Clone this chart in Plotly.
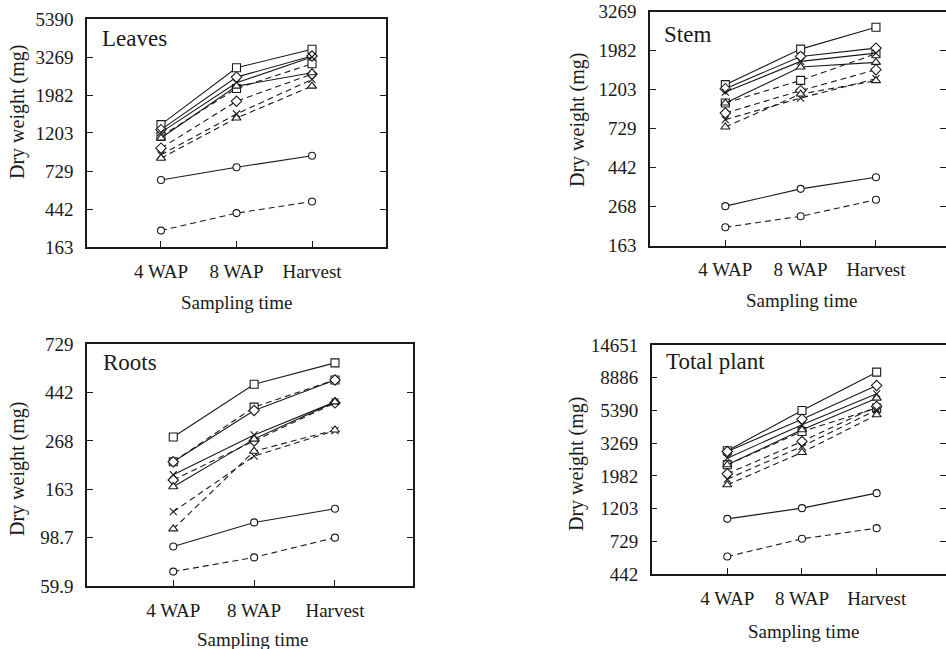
import math
import plotly.graph_objects as go

# ---------------- data ----------------
sampling_times = ["4 WAP", "8 WAP", "Harvest"]

# Leaves (solid = series A, dashed = series B)
leaves_square_a = [1342, 2838, 3620]
leaves_diamond_a = [1257, 2509, 3312]
leaves_x_a = [1212, 2327, 3269]
leaves_triangle_a = [1125, 2228, 2656]
leaves_circle_a = [648, 766, 891]
leaves_square_b = [1150, 2161, 2991]
leaves_diamond_b = [985, 1827, 2610]
leaves_x_b = [902, 1544, 2434]
leaves_triangle_b = [863, 1464, 2228]
leaves_circle_b = [333, 419, 488]

# Stem
stem_square_a = [1283, 2023, 2680]
stem_diamond_a = [1218, 1842, 2049]
stem_x_a = [1167, 1728, 1922]
stem_triangle_a = [1013, 1607, 1706]
stem_circle_a = [270, 337, 391]
stem_square_b = [1013, 1355, 1907]
stem_diamond_b = [891, 1188, 1554]
stem_x_b = [819, 1080, 1385]
stem_triangle_b = [745, 1137, 1350]
stem_circle_b = [206, 237, 293]

# Roots
roots_square_a = [279, 481, 600]
roots_diamond_a = [216, 367, 503]
roots_x_a = [189, 285, 401]
roots_triangle_a = [167, 273, 401]
roots_circle_a = [90, 115.5, 133]
roots_square_b = [216, 380, 503]
roots_diamond_b = [179, 268, 397]
roots_x_b = [129, 229, 298]
roots_triangle_b = [108, 241, 300]
roots_circle_b = [69.5, 80.5, 98.7]

# Total plant
total_square_a = [2906, 5384, 9676]
total_diamond_a = [2876, 4716, 7891]
total_x_a = [2598, 4324, 6947]
total_triangle_a = [2346, 4006, 6502]
total_circle_a = [1027, 1210, 1521]
total_square_b = [2346, 3906, 5580]
total_diamond_b = [2044, 3352, 5724]
total_x_b = [1885, 3105, 5439]
total_triangle_b = [1728, 2833, 5039]
total_circle_b = [577, 757, 891]

# y tick positions and printed labels
leaves_tickvals = [268.3, 442, 729, 1203, 1982, 3269, 5390]
leaves_ticktext = ["163", "442", "729", "1203", "1982", "3269", "5390"]
stem_tickvals = [163, 268, 442, 729, 1203, 1982, 3269]
stem_ticktext = ["163", "268", "442", "729", "1203", "1982", "3269"]
roots_tickvals = [59.9, 98.7, 163, 268, 442, 729]
roots_ticktext = ["59.9", "98.7", "163", "268", "442", "729"]
total_tickvals = [442, 729, 1203, 1982, 3269, 5390, 8886, 14651]
total_ticktext = ["442", "729", "1203", "1982", "3269", "5390", "8886", "14651"]

panel_titles = ["Leaves", "Stem", "Roots", "Total plant"]

# ---------------- figure ----------------
W, H = 946, 649
FONT = "Liberation Serif, Times New Roman, serif"
INK = "#1a1a1a"

def px(x):
    return x / W

def py(y):
    return 1 - y / H

marker_styles = {
    "square": dict(symbol="square", size=8),
    "diamond": dict(symbol="diamond", size=8),
    "x": dict(symbol="x-thin", size=7),
    "triangle": dict(symbol="triangle-up", size=8),
    "circle": dict(symbol="circle", size=7),
}

panels = [
    ("", [("square", leaves_square_a, leaves_square_b), ("diamond", leaves_diamond_a, leaves_diamond_b),
          ("x", leaves_x_a, leaves_x_b), ("triangle", leaves_triangle_a, leaves_triangle_b),
          ("circle", leaves_circle_a, leaves_circle_b)]),
    ("2", [("square", stem_square_a, stem_square_b), ("diamond", stem_diamond_a, stem_diamond_b),
           ("x", stem_x_a, stem_x_b), ("triangle", stem_triangle_a, stem_triangle_b),
           ("circle", stem_circle_a, stem_circle_b)]),
    ("3", [("square", roots_square_a, roots_square_b), ("diamond", roots_diamond_a, roots_diamond_b),
           ("x", roots_x_a, roots_x_b), ("triangle", roots_triangle_a, roots_triangle_b),
           ("circle", roots_circle_a, roots_circle_b)]),
    ("4", [("square", total_square_a, total_square_b), ("diamond", total_diamond_a, total_diamond_b),
           ("x", total_x_a, total_x_b), ("triangle", total_triangle_a, total_triangle_b),
           ("circle", total_circle_a, total_circle_b)]),
]

fig = go.Figure()
for suffix, series in panels:
    for dash_style, idx in (("6px,4px", 2), ("solid", 1)):
        for name, a_vals, b_vals in series:
            vals = a_vals if idx == 1 else b_vals
            ms = marker_styles[name]
            fig.add_trace(go.Scatter(
                x=sampling_times, y=vals, mode="lines+markers",
                xaxis="x" + suffix, yaxis="y" + suffix,
                line=dict(color=INK, width=1.1, dash=dash_style),
                marker=dict(symbol=ms["symbol"], size=ms["size"], color="white",
                            line=dict(color=INK, width=1.1)),
                showlegend=False, hoverinfo="x+y",
            ))

def xaxis(domain, rng, anchor):
    return dict(domain=domain, range=rng, type="category", anchor=anchor, automargin=False,
                showline=True, linecolor=INK, linewidth=1.5, mirror=True,
                ticks="inside", ticklen=6, tickcolor=INK, tickwidth=1.2,
                showgrid=False, zeroline=False, ticklabelstandoff=6,
                tickfont=dict(family=FONT, size=19, color=INK))

def yaxis(domain, lo, hi, tv, tt, anchor):
    return dict(domain=domain, type="log", range=[math.log10(lo), math.log10(hi)], anchor=anchor,
                automargin=False, tickvals=tv, ticktext=tt,
                showline=True, linecolor=INK, linewidth=1.5, mirror="ticks",
                ticks="inside", ticklen=6, tickcolor=INK, tickwidth=1.2,
                showgrid=False, zeroline=False, ticklabelstandoff=8,
                tickfont=dict(family=FONT, size=19, color=INK))

fig.update_layout(
    width=W, height=H, margin=dict(l=0, r=0, t=0, b=0, autoexpand=False),
    paper_bgcolor="white", plot_bgcolor="white",
    xaxis=xaxis([px(87), px(386)], [-0.98, 2.98], "y"),
    yaxis=yaxis([py(247), py(19)], 268.3, 5390, leaves_tickvals, leaves_ticktext, "x"),
    xaxis2=xaxis([px(650), 1.0], [-1.0, 2.93], "y2"),
    yaxis2=yaxis([py(245.5), py(11.7)], 163, 3269, stem_tickvals, stem_ticktext, "x2"),
    xaxis3=xaxis([px(87), px(413)], [-1.067, 2.965], "y3"),
    yaxis3=yaxis([py(586), py(344)], 59.9, 729, roots_tickvals, roots_ticktext, "x3"),
    xaxis4=xaxis([px(651.7), 1.0], [-1.012, 2.928], "y4"),
    yaxis4=yaxis([py(574), py(345)], 442, 14651, total_tickvals, total_ticktext, "x4"),
)

annotations = []
# panel titles
for text, (x0, yc) in zip(panel_titles, [(100, 38), (662, 34), (101, 363), (664, 361)]):
    annotations.append(dict(text=text, x=px(x0), y=py(yc), xref="paper", yref="paper",
                            xanchor="left", yanchor="middle", showarrow=False,
                            font=dict(family=FONT, size=23, color=INK)))
# x axis titles
for xc, yc in [(236, 302), (801, 300), (253, 639), (803, 631)]:
    annotations.append(dict(text="Sampling time", x=px(xc), y=py(yc), xref="paper", yref="paper",
                            xanchor="center", yanchor="middle", showarrow=False,
                            font=dict(family=FONT, size=19, color=INK)))
# y axis titles
for xc, yc in [(17, 112), (577, 120), (17, 469), (577, 464)]:
    annotations.append(dict(text="Dry weight (mg)", x=px(xc), y=py(yc), xref="paper", yref="paper",
                            xanchor="center", yanchor="middle", textangle=-90, showarrow=False,
                            font=dict(family=FONT, size=20, color=INK)))
fig.update_layout(annotations=annotations)

fig.write_html("out.html", config={"displayModeBar": False},
               post_script="document.body.style.margin='0px';document.body.style.overflow='hidden';")
